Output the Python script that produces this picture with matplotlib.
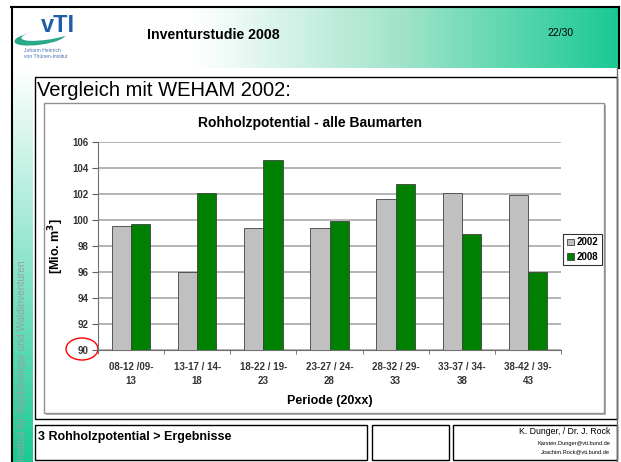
import numpy as np
import matplotlib.pyplot as plt
from matplotlib.patches import Rectangle, Ellipse
from matplotlib.colors import LinearSegmentedColormap

# data
perioden_1 = ['08-12 /09-', '13-17 / 14-', '18-22 / 19-', '23-27 / 24-',
              '28-32 / 29-', '33-37 / 34-', '38-42 / 39-']
perioden_2 = ['13', '18', '23', '28', '33', '38', '43']
weham_2002 = [99.5, 96.0, 99.4, 99.4, 101.6, 102.1, 101.95]
weham_2008 = [99.7, 102.1, 104.6, 99.95, 102.8, 98.9, 96.0]
y_ticks = [90, 92, 94, 96, 98, 100, 102, 104, 106]

W, H = 621, 462
plt.rcParams['font.family'] = ['Liberation Sans', 'DejaVu Sans']
fig = plt.figure(figsize=(W / 100, H / 100), dpi=100)

def box(x, y, w, h):
    return [x / W, 1 - (y + h) / H, w / W, h / H]

# slide background
bg = fig.add_axes([0, 0, 1, 1])
bg.set_xlim(0, W)
bg.set_ylim(H, 0)
bg.axis('off')

green = (0.10, 0.79, 0.58)
cm_h = LinearSegmentedColormap.from_list('h', [(0, 'white'), (0.3, 'white'),
                                              (0.65, (0.62, 0.89, 0.79)), (1, green)])
bg.imshow(np.linspace(0, 1, 256)[None, :], cmap=cm_h, aspect='auto',
          extent=(11, 619, 68, 7), zorder=0)
cm_v = LinearSegmentedColormap.from_list('v', [(0, 'white'), (1, green)])
bg.imshow(np.linspace(0, 1, 256)[:, None], cmap=cm_v, aspect='auto',
          extent=(12, 33, 462, 68), zorder=0)
bg.plot([11, 619], [7, 7], color='black', lw=1.5)
bg.plot([11.5, 11.5], [7, 462], color='black', lw=1.5)
bg.plot([619, 619], [7, 68], color='black', lw=1.5)
bg.plot([617, 617], [68, 462], color='#707070', lw=1)

# logo
bg.add_patch(Ellipse((40, 38), 50, 12, angle=-8, color='#2aa88a', zorder=2))
bg.add_patch(Ellipse((47, 34.5), 50, 9, angle=-8, color='white', zorder=3))
bg.text(41, 25, 'vTI', fontsize=17, fontweight='bold', color='#1f5fa8',
        ha='left', va='center', zorder=4)
bg.text(24, 51, 'Johann Heinrich', fontsize=3.6, color='#4a74b0', va='center')
bg.text(24, 57, 'von Thünen-Institut', fontsize=3.6, color='#4a74b0', va='center')

bg.text(147, 35, 'Inventurstudie 2008', fontsize=10.2, fontweight='bold', va='center')
bg.text(547, 33, '22/30', fontsize=7.5, va='center')
bg.text(22, 461, 'Institut für Waldökologie und Waldinventuren', rotation=90,
        fontsize=7.3, color='#8fa69a', ha='center', va='bottom')

# content frame
bg.add_patch(Rectangle((35, 77), 582, 342, fill=False, ec='black', lw=1))
bg.text(37, 90, 'Vergleich mit WEHAM 2002:', fontsize=14.5, va='center')
bg.add_patch(Rectangle((46, 105), 560, 310, fc='#b0b0b0', ec='none'))
bg.add_patch(Rectangle((44, 103), 560, 310, fc='white', ec='#909090', lw=1))

# footer
bg.add_patch(Rectangle((35, 425), 332, 35, fill=False, ec='black', lw=1))
bg.add_patch(Rectangle((372, 425), 77, 35, fill=False, ec='black', lw=1))
bg.add_patch(Rectangle((453, 425), 164, 35, fill=False, ec='black', lw=1))
bg.text(38, 437, '3 Rohholzpotential > Ergebnisse', fontsize=9, fontweight='bold', va='center')
bg.text(610, 432, 'K. Dunger, / Dr. J. Rock', fontsize=6.3, ha='right', va='center')
bg.text(610, 443, 'Karsten.Dunger@vti.bund.de', fontsize=4.1, ha='right', va='center')
bg.text(610, 452, 'Joachim.Rock@vti.bund.de', fontsize=4.1, ha='right', va='center')

# chart
ax = fig.add_axes(box(98, 142, 463, 208))
x = np.arange(len(weham_2002))
bw = 0.29
ax.bar(x - bw / 2, weham_2002, bw, bottom=0, color='#c0c0c0', edgecolor='#404040',
       lw=0.6, label='2002', zorder=3)
ax.bar(x + bw / 2, weham_2008, bw, bottom=0, color='#008000', edgecolor='#404040',
       lw=0.6, label='2008', zorder=3)
ax.set_ylim(90, 106)
ax.set_xlim(-0.5, len(x) - 0.5)
ax.set_yticks(y_ticks)
ax.set_yticklabels([str(t) for t in y_ticks], fontsize=7, fontweight='bold', color='#333333')
ax.set_xticks(x)
ax.set_xticklabels([a + '\n' + b for a, b in zip(perioden_1, perioden_2)],
                   fontsize=7, fontweight='bold', color='#333333', linespacing=1.45)
ax.set_xticks(np.arange(-0.5, len(x)), minor=True)
ax.tick_params(axis='x', which='major', length=0, pad=9)
ax.tick_params(axis='x', which='minor', length=3, color='#606060')
ax.tick_params(axis='y', length=4, color='#606060', pad=3)
ax.grid(axis='y', color='#a8a8a8', lw=1.2, zorder=0)
for s in ['top', 'right']:
    ax.spines[s].set_visible(False)
for s in ['left', 'bottom']:
    ax.spines[s].set_color('#707070')
ax.text(0.458, 1 + 19 / 208, 'Rohholzpotential - alle Baumarten', transform=ax.transAxes,
        ha='center', va='center', fontsize=10, fontweight='bold')
ax.set_ylabel('[Mio. m$^\\mathbf{3}$]', fontsize=9, fontweight='bold')
ax.yaxis.set_label_coords(-0.07, 0.5)
ax.set_xlabel('Periode (20xx)', fontsize=9, fontweight='bold')
ax.xaxis.set_label_coords(0.5, -0.215)

leg = ax.legend(loc='center', bbox_to_anchor=(582.5 / W, 1 - 249.5 / H),
                bbox_transform=fig.transFigure, prop={'weight': 'bold', 'size': 7},
                frameon=True, fancybox=False, edgecolor='black', handlelength=0.7,
                handleheight=0.7, handletextpad=0.3, borderpad=0.35, labelspacing=0.45,
                borderaxespad=0)
leg.get_frame().set_linewidth(0.8)

# red circle around the 90
bg.add_patch(Ellipse((82, 349), 32, 22, fill=False, ec='red', lw=1, zorder=10))

fig.savefig('out.png', dpi=100)
